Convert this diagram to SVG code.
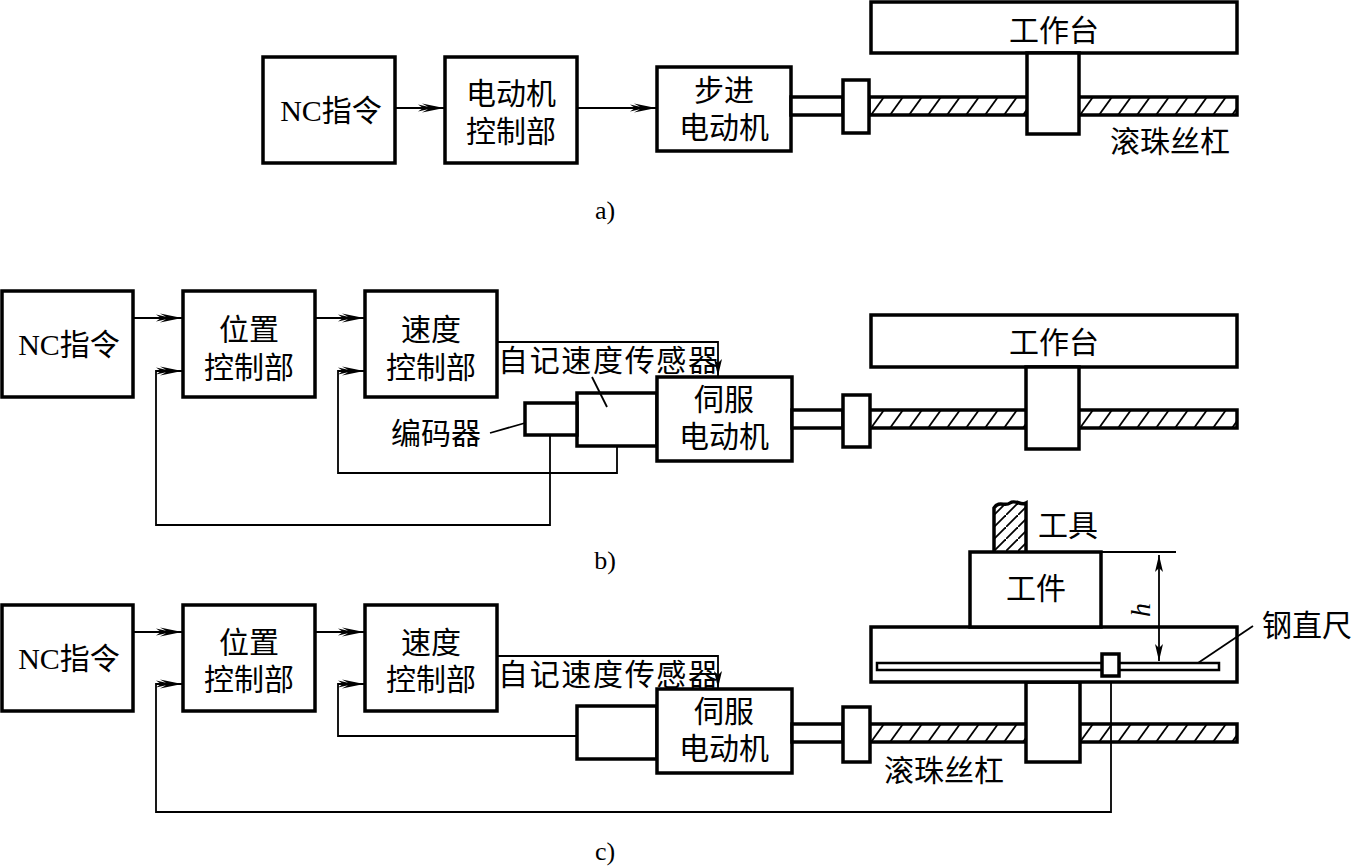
<svg xmlns="http://www.w3.org/2000/svg" width="1353" height="866" viewBox="0 0 1353 866">
<style>
.box{fill:#fff;stroke:#000;stroke-width:3.5}
.thin{fill:none;stroke:#000;stroke-width:1.8}
.t{font-family:"Liberation Serif","Noto Sans CJK SC",serif;font-size:30px;fill:#000;text-anchor:middle}
.ts{font-family:"Liberation Serif","Noto Sans CJK SC",serif;font-size:30px;fill:#000}
.cap{font-family:"Liberation Serif",serif;font-size:26px;fill:#000;text-anchor:middle}
.hl{stroke:#000;stroke-width:1.8}
</style>
<defs>
<marker id="arr" viewBox="-26 -6 28 12" refX="0" refY="0" markerWidth="28" markerHeight="12" markerUnits="userSpaceOnUse" orient="auto">
<path d="M0,0 L-22,-4.5 L-16,-1.2 L-26,-3.5 L-21,0 L-26,3.5 L-16,1.2 L-22,4.5 Z" fill="#000"/>
</marker>
<marker id="arrd" viewBox="-18 -6 20 12" refX="0" refY="0" markerWidth="20" markerHeight="12" markerUnits="userSpaceOnUse" orient="auto-start-reverse">
<path d="M0,0 L-17,-4 L-13,0 L-17,4 Z" fill="#000"/>
</marker>
<pattern id="hA" patternUnits="userSpaceOnUse" x="869" y="97" width="19" height="18"><line class="hl" x1="2" y1="18" x2="15" y2="0"/></pattern>
<pattern id="hB" patternUnits="userSpaceOnUse" x="869" y="410" width="19" height="18"><line class="hl" x1="2" y1="18" x2="15" y2="0"/></pattern>
<pattern id="hC" patternUnits="userSpaceOnUse" x="869" y="724" width="19" height="18"><line class="hl" x1="2" y1="18" x2="15" y2="0"/></pattern>
<pattern id="hT" patternUnits="userSpaceOnUse" x="994" y="503" width="12" height="12"><line class="hl" x1="0" y1="12" x2="12" y2="0"/></pattern>
</defs>

<g id="connectors">
<!-- a -->
<line class="thin" x1="396" y1="108" x2="444" y2="108" marker-end="url(#arr)"/>
<line class="thin" x1="578" y1="108" x2="656" y2="108" marker-end="url(#arr)"/>
<!-- b -->
<line class="thin" x1="133" y1="318" x2="182" y2="318" marker-end="url(#arr)"/>
<line class="thin" x1="315" y1="318" x2="364" y2="318" marker-end="url(#arr)"/>
<polyline class="thin" points="497,342 718,342 718,376" marker-end="url(#arrd)"/>
<polyline class="thin" points="617,446 617,473 338,473 338,371 364,371" marker-end="url(#arr)"/>
<polyline class="thin" points="550,435 550,525 156,525 156,371 182,371" marker-end="url(#arr)"/>
<!-- c -->
<line class="thin" x1="133" y1="632" x2="182" y2="632" marker-end="url(#arr)"/>
<line class="thin" x1="315" y1="632" x2="364" y2="632" marker-end="url(#arr)"/>
<polyline class="thin" points="497,656 718,656 718,688" marker-end="url(#arrd)"/>
<polyline class="thin" points="577,736 338,736 338,684 364,684" marker-end="url(#arr)"/>
<polyline class="thin" points="1111,676 1111,812 156,812 156,684 182,684" marker-end="url(#arr)"/>
</g>

<!-- a) -->
<g id="a-nc"><rect class="box" x="263" y="57" width="132" height="106"/><text class="t" x="331" y="121">NC指令</text></g>
<g id="a-ctrl"><rect class="box" x="445" y="57" width="132" height="106"/><text class="t" x="511" y="104">电动机</text><text class="t" x="511" y="142">控制部</text></g>
<g id="a-motor"><rect class="box" x="657" y="67" width="134" height="84"/><text class="t" x="724" y="101">步进</text><text class="t" x="724" y="138">电动机</text></g>
<g id="a-mech">
<rect class="box" x="791" y="97" width="52" height="18"/>
<rect x="869" y="97" width="368" height="18" fill="url(#hA)" stroke="#000" stroke-width="3.5"/>
<rect class="box" x="843" y="80" width="26" height="53"/>
<rect class="box" x="871" y="2" width="366" height="51"/>
<text class="t" x="1054" y="41">工作台</text>
<rect class="box" x="1027" y="53" width="52" height="81"/>
<text class="ts" x="1110" y="152">滚珠丝杠</text>
</g>
<text class="cap" x="605" y="219">a)</text>

<!-- b) -->
<g id="b-nc"><rect class="box" x="2" y="291" width="131" height="106"/><text class="t" x="69" y="355">NC指令</text></g>
<g id="b-pos"><rect class="box" x="183" y="291" width="132" height="106"/><text class="t" x="249" y="340">位置</text><text class="t" x="249" y="378">控制部</text></g>
<g id="b-spd"><rect class="box" x="365" y="291" width="132" height="106"/><text class="t" x="431" y="340">速度</text><text class="t" x="431" y="378">控制部</text></g>
<g id="b-sensor-label"><text class="ts" x="498" y="371" textLength="220">自记速度传感器</text></g>
<g id="b-tacho"><rect class="box" x="577" y="393" width="80" height="53"/></g>
<g id="b-encoder"><rect class="box" x="525" y="403" width="52" height="32"/><text class="t" x="436" y="444">编码器</text></g>
<g id="b-motor"><rect class="box" x="657" y="377" width="135" height="84"/><text class="t" x="724" y="410">伺服</text><text class="t" x="724" y="447">电动机</text></g>
<g id="b-mech">
<rect class="box" x="792" y="410" width="51" height="18"/>
<rect x="869" y="410" width="368" height="18" fill="url(#hB)" stroke="#000" stroke-width="3.5"/>
<rect class="box" x="843" y="395" width="27" height="52"/>
<rect class="box" x="871" y="315" width="366" height="52"/>
<text class="t" x="1054" y="353">工作台</text>
<rect class="box" x="1026" y="367" width="53" height="82"/>
</g>
<text class="cap" x="605" y="569">b)</text>

<!-- c) -->
<g id="c-nc"><rect class="box" x="2" y="605" width="131" height="106"/><text class="t" x="69" y="669">NC指令</text></g>
<g id="c-pos"><rect class="box" x="183" y="605" width="132" height="106"/><text class="t" x="249" y="653">位置</text><text class="t" x="249" y="690">控制部</text></g>
<g id="c-spd"><rect class="box" x="365" y="605" width="132" height="106"/><text class="t" x="431" y="653">速度</text><text class="t" x="431" y="690">控制部</text></g>
<g id="c-sensor-label"><text class="ts" x="498" y="685" textLength="220">自记速度传感器</text></g>
<g id="c-tacho"><rect class="box" x="577" y="706" width="80" height="53"/></g>
<g id="c-motor"><rect class="box" x="657" y="689" width="135" height="84"/><text class="t" x="724" y="722">伺服</text><text class="t" x="724" y="759">电动机</text></g>
<g id="c-mech">
<rect class="box" x="792" y="724" width="51" height="18"/>
<rect x="869" y="724" width="368" height="18" fill="url(#hC)" stroke="#000" stroke-width="3.5"/>
<rect class="box" x="843" y="707" width="27" height="55"/>
<rect class="box" x="1026" y="682" width="54" height="80"/>
<rect class="box" x="871" y="627" width="366" height="55"/>
<rect x="877" y="663" width="342" height="7" fill="#fff" stroke="#000" stroke-width="2.5"/>
<rect class="box" x="1102" y="654" width="17" height="22"/>
<text class="ts" x="884" y="781">滚珠丝杠</text>
</g>
<g id="c-work"><rect class="box" x="970" y="552" width="131" height="75"/><text class="t" x="1036" y="599">工件</text></g>
<g id="c-tool"><path d="M994,552 V508 C999,500 1005,507 1010,503 C1015,499 1021,506 1026,503 V552" fill="url(#hT)" stroke="#000" stroke-width="3.5"/><text class="ts" x="1038" y="536">工具</text></g>
<g id="c-dim"><text x="1150" y="610" transform="rotate(-90 1150 610)" style="font-family:'Liberation Serif',serif;font-style:italic;font-size:28px;text-anchor:middle">h</text></g>
<g id="c-ruler-label"><text class="ts" x="1262" y="636">钢直尺</text></g>
<text class="cap" x="605" y="860">c)</text>

<g id="leaders">
<line class="thin" x1="490" y1="433" x2="525" y2="423"/>
<line class="thin" x1="592" y1="377" x2="607" y2="407"/>
<line class="thin" x1="1102" y1="552" x2="1176" y2="552"/>
<line class="thin" x1="1159" y1="555" x2="1159" y2="661" marker-start="url(#arrd)" marker-end="url(#arrd)"/>
<line class="thin" x1="1253" y1="626" x2="1198" y2="663"/>
</g>
</svg>
